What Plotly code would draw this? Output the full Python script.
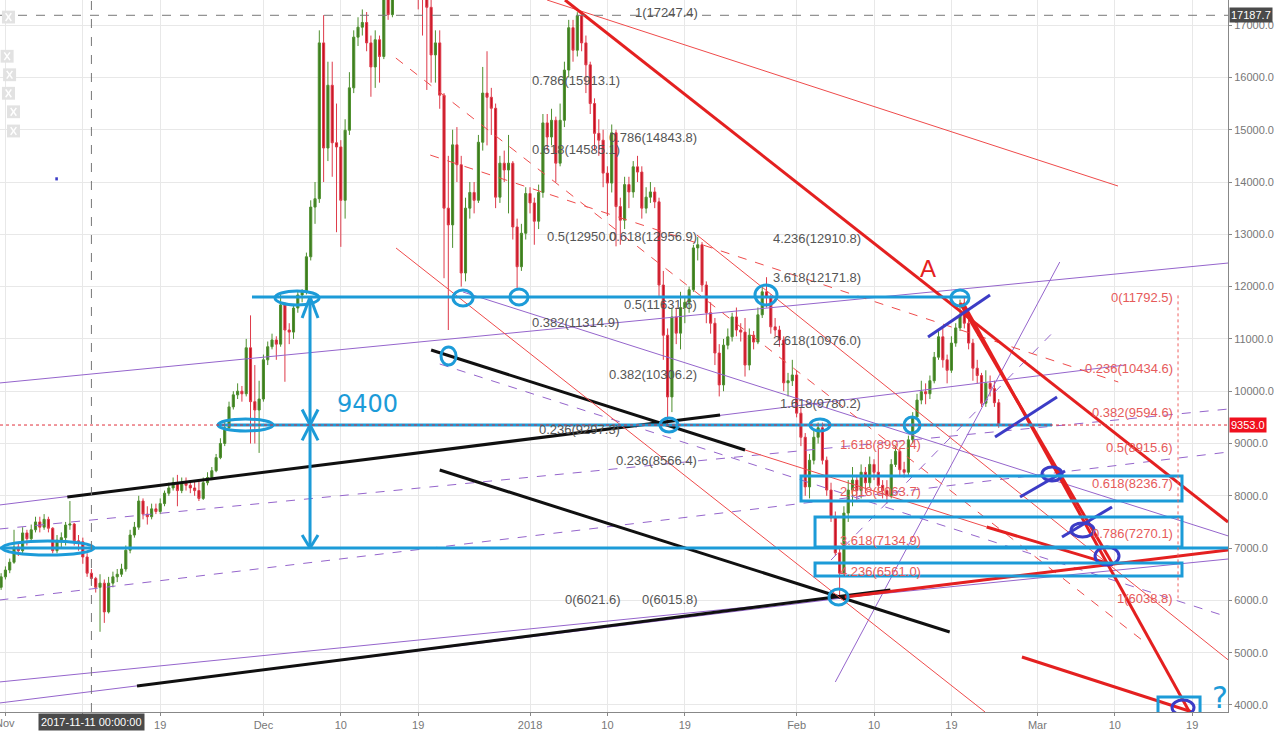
import pandas as pd
import plotly.graph_objects as go

# ---------------- data: 12h candles ----------------
first_open = 6250
closes = [6450, 6580, 6730, 7020, 6950, 7290, 7180, 7350, 7500, 7400, 7550, 7380, 6950, 7150, 7200, 7440, 7460, 7140, 7120, 6830,
          6520, 6420, 6250, 6330, 5780, 6330, 6450, 6500, 6600, 6960, 7250, 7400, 7900, 7650, 7600, 7750, 7700, 7850, 8050, 8150,
          8250, 8100, 8250, 8200, 8150, 8100, 7950, 8250, 8350, 8480, 8730, 9000, 9300, 9700, 9930, 10000, 9950, 10830, 9800, 9640,
          9850, 10600, 10850, 10980, 10900, 11650, 11170, 11130, 11590, 11840, 11900, 12570, 13520, 13680, 16660, 14650, 15850, 14750, 14670, 13650,
          14990, 15800, 16770, 16960, 17050, 16660, 16200, 16720, 16400, 17700, 17200, 17900, 19000, 19400, 19100, 18500, 19000, 18200, 17500, 17340,
          16430, 16660, 15660, 13500, 13180, 14710, 14330, 12260, 13500, 13800, 13650, 14760, 15700, 15620, 15410, 13710, 14360, 14230, 14360, 13140,
          12380, 13020, 13780, 13600, 13250, 13800, 15130, 14860, 15180, 14360, 15180, 16140, 16950, 16520, 17180, 16660, 16240, 15500, 14930, 14800,
          14170, 13980, 14940, 13530, 13270, 13950, 13810, 14290, 14190, 13500, 13710, 13810, 13620, 12030, 11070, 9890, 11420, 11110, 11600, 11700,
          11940, 12740, 12800, 12030, 11500, 11300, 10730, 10120, 10880, 11040, 11420, 11170, 11130, 10500, 11070, 10940, 11460, 11900, 11790, 11230,
          11170, 10980, 10160, 10200, 10310, 9580, 9120, 8170, 8680, 9120, 9300, 8680, 8110, 7580, 6910, 6520, 7670, 8110, 8300, 8100,
          8450, 8250, 8600, 8450, 8200, 8100, 8000, 8600, 8850, 8500, 8450, 9070, 9510, 9830, 9990, 9950, 10200, 10650, 11040, 10600,
          10400, 10920, 11210, 11460, 11300, 10920, 10440, 10300, 9770, 10150, 10050, 9780, 9353]
highs = [6520, 6650, 6800, 7350, 7100, 7400, 7350, 7450, 7600, 7600, 7650, 7600, 7400, 7250, 7300, 7500, 7900, 7480, 7250, 7200,
         6900, 6600, 6450, 6500, 6400, 6450, 6550, 6600, 6700, 7050, 7350, 7500, 8000, 7950, 7800, 7850, 7850, 7950, 8100, 8250,
         8350, 8400, 8350, 8350, 8300, 8280, 8300, 8350, 8450, 8550, 8800, 9100, 9450, 9800, 10000, 10150, 10100, 11000, 11450, 10500,
         10200, 10700, 10950, 11100, 11050, 11850, 11700, 11300, 11650, 11900, 11950, 12650, 13650, 14000, 16900, 17190, 16300, 16300, 15500, 14800,
         15200, 16100, 16900, 17150, 17300, 17250, 16800, 16900, 16800, 17900, 17800, 18100, 19300, 19700, 19600, 19200, 19200, 19000, 18400, 17700,
         17480, 16900, 16900, 15700, 14500, 15000, 15050, 14500, 13700, 14000, 14000, 14900, 16200, 16500, 15800, 15500, 14500, 14600, 14900, 14400,
         13300, 13200, 13900, 13900, 13700, 13950, 15300, 15300, 15400, 15250, 15500, 16300, 17100, 17100, 17247, 17200, 16800, 16300, 15600, 15200,
         15000, 14300, 15100, 15000, 13700, 14100, 14100, 14400, 14500, 14300, 13900, 14000, 13900, 13700, 12300, 11200, 11600, 11600, 11900, 11800,
         12000, 12800, 12950, 12850, 12100, 11700, 11400, 10900, 11000, 11200, 11500, 11600, 11300, 11400, 11200, 11150, 11600, 12000, 12180, 11850,
         11400, 11250, 11050, 10350, 10600, 10400, 9700, 9200, 8800, 9250, 9400, 9400, 8750, 8250, 7700, 7000, 7800, 8300, 8550, 8400,
         8600, 8550, 8750, 8700, 8900, 8300, 8300, 8700, 8950, 8900, 8650, 9150, 9600, 9950, 10200, 10150, 10300, 10750, 11150, 11250,
         10700, 11050, 11300, 11750, 11792, 11400, 11000, 10600, 10350, 10400, 10300, 10200, 9850]
lows = [6200, 6400, 6520, 6700, 6850, 6900, 7050, 7100, 7300, 7300, 7350, 7300, 6900, 6900, 7000, 7050, 7350, 7050, 6950, 6700,
        6450, 6300, 6150, 5400, 5570, 5750, 6250, 6350, 6450, 6550, 6900, 7200, 7350, 7550, 7450, 7550, 7650, 7650, 7800, 8000,
        8100, 7800, 8050, 8100, 8050, 8000, 7900, 7920, 8200, 8300, 8450, 8700, 8950, 9250, 9650, 9850, 9800, 9900, 9000, 9000,
        8820, 9800, 10500, 10800, 10600, 10850, 10180, 10900, 11000, 11500, 11700, 11850, 12500, 13200, 13600, 14000, 14400, 14100, 13040, 12760,
        13300, 14900, 15700, 16600, 16800, 16500, 15630, 15800, 15900, 16350, 17100, 17150, 17800, 18900, 18700, 18000, 18200, 17300, 16800, 15760,
        15900, 15900, 15400, 12160, 11170, 12740, 14000, 12000, 12100, 13300, 13400, 13600, 14600, 14700, 14900, 13500, 13600, 14000, 13400, 12900,
        11970, 12300, 12900, 13400, 12800, 13100, 13700, 14600, 14700, 14000, 14300, 15050, 16000, 16300, 16400, 16500, 15700, 15300, 14600, 14500,
        13900, 13350, 13800, 12770, 12800, 13100, 13500, 13700, 14000, 13300, 13400, 13600, 13500, 11800, 10600, 9350, 9600, 10900, 10800, 11300,
        11500, 11900, 12500, 11900, 11300, 11100, 10500, 9900, 10000, 10800, 10950, 11050, 10950, 10280, 10400, 10800, 10900, 11400, 11600, 11100,
        11050, 10850, 10000, 9900, 10100, 9500, 8950, 8000, 7950, 8600, 9000, 8600, 8000, 7500, 6850, 6040, 6450, 7500, 7800, 7900,
        7950, 8050, 8150, 8300, 8100, 7950, 7850, 7950, 8550, 8400, 8350, 8400, 9000, 9450, 9750, 9750, 9850, 10150, 10600, 10450,
        10150, 10350, 10850, 11150, 11200, 10800, 10200, 10150, 9700, 9700, 9900, 9700, 9300]
last_price = 9353.0
top_marker = 17187.7

times = pd.date_range("2017-10-31 12:00", periods=len(closes), freq="12h")
opens = [first_open] + closes[:-1]

# tick labels
x_tick_dates = ["2017-11-01", "2017-11-10", "2017-11-19", "2017-12-01", "2017-12-10", "2017-12-19", "2018-01-01",
                "2018-01-10", "2018-01-19", "2018-02-01", "2018-02-10", "2018-02-19", "2018-03-01", "2018-03-10", "2018-03-19"]
x_tick_text = ["Nov", "", "19", "Dec", "10", "19", "2018", "10", "19", "Feb", "10", "19", "Mar", "10", "19"]
y_ticks = list(range(4000, 18000, 1000))

# fib labels: (day offset from 2018-01-01, price, text)
gray_fib = [(11.98, 17250, "1(17247.4)"), (0.0, 15940, "0.786(15913.1)"), (8.95, 14860, "0.786(14843.8)"),
            (0.0, 14612, "0.618(14585.1)"), (1.74, 12967, "0.5(12950.0"), (8.95, 12967, "0.618(12956.9)"),
            (28.02, 12929, "4.236(12910.8)"), (28.02, 12183, "3.618(12171.8)"), (10.7, 11667, "0.5(11631.6)"),
            (0.0, 11323, "0.382(11314.9)"), (28.02, 10979, "2.618(10976.0)"), (8.95, 10310, "0.382(10306.2)"),
            (28.84, 9774, "1.618(9780.2)"), (0.81, 9277, "0.236(9297.3)"), (9.77, 8684, "0.236(8566.4)"),
            (3.84, 6008, "0(6021.6)"), (12.79, 6008, "0(6015.8)")]
red_fib_left = [(35.81, 8990, "1.618(8992.4)"), (35.81, 8073, "2.618(8063.7)"),
                (35.81, 7136, "3.618(7134.9)"), (35.81, 6562, "4.236(6561.0)")]
red_fib_right = [(11800, "0(11792.5)"), (10435, "0.236(10434.6)"), (9595, "0.382(9594.6)"), (8916, "0.5(8915.6)"),
                 (8237, "0.618(8236.7)"), (7270, "0.786(7270.1)"), (6039, "1(6038.8)")]

BASE = pd.Timestamp("2018-01-01")


def T(d):
    return BASE + pd.Timedelta(days=d)


BLUE = "#1c9bd8"
DBLUE = "#3c3cc6"
RED = "#e42020"
TRED = "#ef4b4b"
PURP = "#9565cc"
BLACK = "#101010"

# drawings: (d0, p0, d1, p1, color, width, dash)
segments = [
    # thin purple
    (-61.7, 10157, 81.2, 12451, PURP, 1, "solid"),
    (-61.7, 7824, 69.3, 10503, PURP, 1, "solid"),
    (-7.8, 11897, 81.2, 7232, PURP, 1, "solid"),
    (-61.7, 4038, 81.2, 6964, PURP, 1, "solid"),
    (-61.7, 4440, 81.2, 6792, PURP, 1, "solid"),
    (35.5, 4440, 61.6, 12470, PURP, 1, "solid"),
    # dashed purple
    (-61.7, 7365, 81.2, 9659, PURP, 1, "dash"),
    (-61.7, 6007, 81.2, 8837, PURP, 1, "dash"),
    (-10.5, 10520, 81.2, 5680, PURP, 1, "dash"),
    (35.0, 6772, 61.3, 11208, PURP, 1, "dash"),
    # black
    (-53.8, 7977, 22.1, 9545, BLACK, 3, "solid"),
    (-11.5, 10788, 25.0, 8876, BLACK, 3, "solid"),
    (-10.5, 8493, 48.8, 5396, BLACK, 3, "solid"),
    (-45.7, 4363, 41.9, 6199, BLACK, 3, "solid"),
    # thin red
    (1.98, 17480, 68.37, 13923, TRED, 1, "solid"),
    (-15.58, 12738, 52.91, 3866, TRED, 1, "solid"),
    (19.4, 12987, 81.2, 4860, TRED, 1, "solid"),
    (25.0, 8876, 53.1, 7404, TRED, 1, "solid"),
    # dashed red
    (-15.6, 16370, 71.6, 5186, TRED, 1, "dash"),
    (-11.6, 14515, 68.4, 10176, TRED, 1, "dash"),
    # thick red
    (4.07, 17480, 81.16, 7499, RED, 3, "solid"),
    (50.35, 11686, 76.74, 3850, RED, 3, "solid"),
    (50.0, 11686, 67.8, 6680, RED, 3, "solid"),
    (53.1, 7404, 67.8, 6680, RED, 3, "solid"),
    (36.6, 6065, 81.16, 6964, RED, 3, "solid"),
    (57.2, 4918, 76.9, 3870, RED, 3, "solid"),
    # blue levels
    (-32.33, 11801, 50.93, 11801, BLUE, 3, "solid"),
    (-36.28, 9353, 60.7, 9353, BLUE, 3, "solid"),
    (-61.7, 7002, 81.2, 7002, BLUE, 3, "solid"),
    (-25.58, 11801, -25.58, 7002, BLUE, 3, "solid"),
    (-26.5, 11400, -25.58, 11801, BLUE, 3, "solid"),
    (-24.65, 11400, -25.58, 11801, BLUE, 3, "solid"),
    (-26.5, 9650, -24.65, 9060, BLUE, 3, "solid"),
    (-24.65, 9650, -26.5, 9060, BLUE, 3, "solid"),
    (-26.5, 7250, -25.58, 7002, BLUE, 3, "solid"),
    (-24.65, 7250, -25.58, 7002, BLUE, 3, "solid"),
    # dark blue strokes
    (46.28, 11036, 53.49, 11839, DBLUE, 3, "solid"),
    (54.07, 9124, 61.28, 9889, DBLUE, 3, "solid"),
    (56.98, 7977, 62.21, 8475, DBLUE, 3, "solid"),
    (61.86, 7212, 67.67, 7786, DBLUE, 3, "solid"),
]

# ellipses: (d0, d1, p0, p1, color)
ellipses = [
    (-29.65, -24.53, 11648, 11916, BLUE), (-8.95, -6.63, 11629, 11935, BLUE), (-2.33, -0.23, 11648, 11954, BLUE),
    (26.16, 28.72, 11648, 12030, BLUE), (48.95, 51.05, 11629, 11935, BLUE), (-10.35, -8.6, 10501, 10845, BLUE),
    (-36.28, -29.88, 9239, 9468, BLUE), (15.12, 17.21, 9220, 9487, BLUE), (32.56, 34.88, 9239, 9468, BLUE),
    (43.49, 45.35, 9201, 9507, BLUE), (-61.4, -50.7, 6868, 7136, BLUE), (34.77, 36.98, 5912, 6218, BLUE),
    (59.53, 61.86, 8283, 8551, DBLUE), (62.91, 65.58, 7212, 7480, DBLUE), (65.7, 68.49, 6677, 7021, DBLUE),
    (74.65, 77.21, 3809, 4096, DBLUE),
]
rects = [(31.51, 75.81, 7900, 8378), (33.14, 75.81, 7021, 7595), (33.14, 75.81, 6466, 6715), (73.02, 77.91, 3830, 4153)]

fig = go.Figure()
fig.add_trace(go.Candlestick(
    x=times, open=opens, high=highs, low=lows, close=closes,
    increasing=dict(line=dict(color="#4e8f2e", width=1), fillcolor="#3d7c1f"),
    decreasing=dict(line=dict(color="#de3a4a", width=1), fillcolor="#c4101e"),
    whiskerwidth=0, showlegend=False, hoverinfo="skip"))

shapes = []
for d0, p0, d1, p1, c, w, dash in segments:
    shapes.append(dict(type="line", xref="x", yref="y", x0=T(d0), y0=p0, x1=T(d1), y1=p1,
                       line=dict(color=c, width=w, dash=dash)))
for d0, d1, p0, p1, c in ellipses:
    shapes.append(dict(type="circle", xref="x", yref="y", x0=T(d0), x1=T(d1), y0=p0, y1=p1,
                       line=dict(color=c, width=3)))
for d0, d1, p0, p1 in rects:
    shapes.append(dict(type="rect", xref="x", yref="y", x0=T(d0), x1=T(d1), y0=p0, y1=p1,
                       line=dict(color=BLUE, width=3)))
# reference lines
shapes.append(dict(type="line", xref="paper", yref="y", x0=0, x1=1, y0=top_marker, y1=top_marker,
                   line=dict(color="#777777", width=1, dash="dash")))
shapes.append(dict(type="line", xref="paper", yref="y", x0=0, x1=1, y0=last_price, y1=last_price,
                   line=dict(color="#e0303a", width=1, dash="dot")))
shapes.append(dict(type="line", xref="x", yref="paper", x0=pd.Timestamp("2017-11-11"), x1=pd.Timestamp("2017-11-11"),
                   y0=0, y1=1, line=dict(color="#777777", width=1, dash="dash")))
shapes.append(dict(type="line", xref="x", yref="y", x0=T(75.35), x1=T(75.35), y0=6039, y1=11850,
                   line=dict(color="#ef6060", width=1, dash="dot")))
# small blue dot
shapes.append(dict(type="rect", xref="x", yref="y", x0=T(-55.2), x1=T(-54.9), y0=14030, y1=14090,
                   fillcolor=DBLUE, line=dict(width=0)))
# toolbar boxes on the left edge (with a white cross)
for (bx, by) in [(0.0016, 0.976), (0.0005, 0.921), (0.0025, 0.895), (0.0016, 0.869), (0.0057, 0.843), (0.0057, 0.816)]:
    shapes.append(dict(type="rect", xref="paper", yref="paper", x0=bx, x1=bx + 0.0106, y0=by - 0.009, y1=by + 0.009,
                       fillcolor="#e2e2e2", line=dict(width=0)))
    shapes.append(dict(type="line", xref="paper", yref="paper", x0=bx + 0.003, x1=bx + 0.0076, y0=by - 0.0055, y1=by + 0.0055,
                       line=dict(color="white", width=1.5)))
    shapes.append(dict(type="line", xref="paper", yref="paper", x0=bx + 0.003, x1=bx + 0.0076, y0=by + 0.0055, y1=by - 0.0055,
                       line=dict(color="white", width=1.5)))

annotations = []
for d, p, t in gray_fib:
    annotations.append(dict(x=T(d), y=p, text=t, showarrow=False, xanchor="left", yanchor="middle",
                            font=dict(family="Liberation Sans, Arial", size=13, color="#555555")))
for d, p, t in red_fib_left:
    annotations.append(dict(x=T(d), y=p, text=t, showarrow=False, xanchor="left", yanchor="middle",
                            font=dict(family="Liberation Sans, Arial", size=13, color="#e65a5a")))
for p, t in red_fib_right:
    annotations.append(dict(x=T(75.0), y=p, text=t, showarrow=False, xanchor="right", yanchor="middle",
                            font=dict(family="Liberation Sans, Arial", size=13, color="#e65a5a")))
annotations.append(dict(x=T(46.3), y=12355, text="A", showarrow=False,
                        font=dict(family="Liberation Sans, Arial", size=24, color=RED)))
annotations.append(dict(x=T(-18.9), y=9750, text="9400", showarrow=False,
                        font=dict(family="DejaVu Sans", size=24, color=BLUE)))
annotations.append(dict(x=T(80.2), y=4150, text="?", showarrow=False,
                        font=dict(family="DejaVu Sans", size=30, color=BLUE)))
annotations.append(dict(x=pd.Timestamp("2017-11-01"), y=0, xref="x", yref="paper", yanchor="top", yshift=-3,
                        text="Nov", showarrow=False,
                        font=dict(family="Liberation Sans, Arial", size=11, color="#777777")))
annotations.append(dict(x=pd.Timestamp("2017-11-11"), y=0, xref="x", yref="paper", yanchor="top", yshift=-1,
                        text="2017-11-11 00:00:00", showarrow=False, bgcolor="#4a4a4a", borderpad=2,
                        font=dict(family="Liberation Sans, Arial", size=11, color="white")))
annotations.append(dict(x=1, xref="paper", y=top_marker, xanchor="left", text="17187.7", showarrow=False,
                        bgcolor="#4a4a4a", borderpad=1, xshift=1,
                        font=dict(family="Liberation Sans, Arial", size=11, color="white")))
annotations.append(dict(x=1, xref="paper", y=last_price, xanchor="left", text="9353.0", showarrow=False,
                        bgcolor="#f0101e", borderpad=1, xshift=1,
                        font=dict(family="Liberation Sans, Arial", size=11, color="white")))

fig.update_layout(
    width=1280, height=733, margin=dict(l=0, r=52, t=0, b=21),
    paper_bgcolor="white", plot_bgcolor="white",
    shapes=shapes, annotations=annotations, showlegend=False,
    xaxis=dict(type="date", range=[T(-61.63), T(81.16)], rangeslider=dict(visible=False), automargin=False,
               tickvals=[pd.Timestamp(s) for s in x_tick_dates], ticktext=x_tick_text,
               showgrid=True, gridcolor="#e8e8e8", zeroline=False, showline=True, linecolor="#888888",
               ticks="outside", ticklen=3, tickcolor="#888888",
               tickfont=dict(family="Liberation Sans, Arial", size=11, color="#777777")),
    yaxis=dict(side="right", range=[3866, 17480], tickvals=y_ticks, tickformat=".1f", automargin=False,
               showgrid=True, gridcolor="#e8e8e8", zeroline=False, showline=True, linecolor="#888888",
               ticks="outside", ticklen=3, tickcolor="#888888",
               tickfont=dict(family="Liberation Sans, Arial", size=11, color="#777777")),
)

fig.write_html("out.html", config={"displayModeBar": False},
               post_script="document.body.style.margin='0';document.body.style.overflow='hidden';")
